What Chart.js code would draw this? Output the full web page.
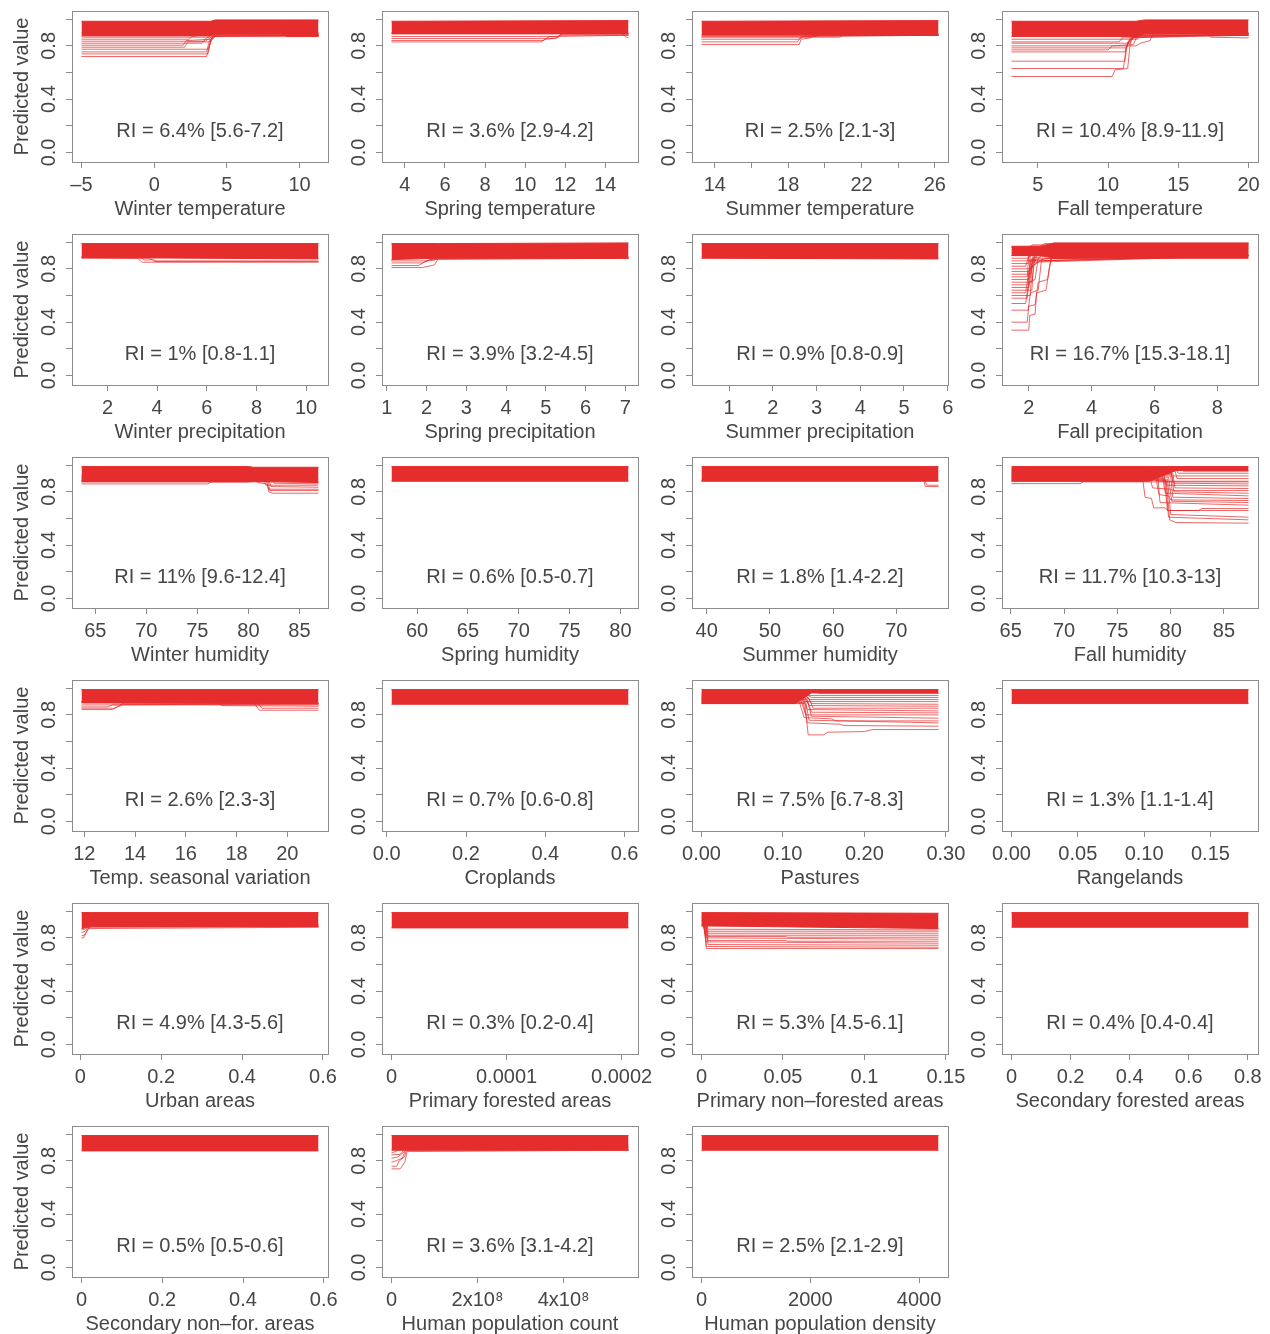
<!DOCTYPE html>
<html>
<head>
<meta charset="utf-8">
<script src="https://cdn.jsdelivr.net/npm/chart.js@4.4.0/dist/chart.umd.min.js"></script>
<style>
  html, body { margin: 0; padding: 0; background: #fff; }
  #grid { position: relative; width: 1270px; height: 1334px; overflow: hidden; }
  #grid canvas { position: absolute; }
</style>
</head>
<body>
<div id="grid"></div>
<script>
// one panel per predictor
const panelTitles = [
  'Winter temperature', 'Spring temperature', 'Summer temperature', 'Fall temperature',
  'Winter precipitation', 'Spring precipitation', 'Summer precipitation', 'Fall precipitation',
  'Winter humidity', 'Spring humidity', 'Summer humidity', 'Fall humidity',
  'Temp. seasonal variation', 'Croplands', 'Pastures', 'Rangelands',
  'Urban areas', 'Primary forested areas', 'Primary non\u2013forested areas', 'Secondary forested areas',
  'Secondary non\u2013for. areas', 'Human population count', 'Human population density'
];

const riLabels = [
  'RI = 6.4% [5.6-7.2]', 'RI = 3.6% [2.9-4.2]', 'RI = 2.5% [2.1-3]', 'RI = 10.4% [8.9-11.9]',
  'RI = 1% [0.8-1.1]', 'RI = 3.9% [3.2-4.5]', 'RI = 0.9% [0.8-0.9]', 'RI = 16.7% [15.3-18.1]',
  'RI = 11% [9.6-12.4]', 'RI = 0.6% [0.5-0.7]', 'RI = 1.8% [1.4-2.2]', 'RI = 11.7% [10.3-13]',
  'RI = 2.6% [2.3-3]', 'RI = 0.7% [0.6-0.8]', 'RI = 7.5% [6.7-8.3]', 'RI = 1.3% [1.1-1.4]',
  'RI = 4.9% [4.3-5.6]', 'RI = 0.3% [0.2-0.4]', 'RI = 5.3% [4.5-6.1]', 'RI = 0.4% [0.4-0.4]',
  'RI = 0.5% [0.5-0.6]', 'RI = 3.6% [3.1-4.2]', 'RI = 2.5% [2.1-2.9]'
];

const xTicks = [
  [-5, 0, 5, 10], [4, 6, 8, 10, 12, 14], [14, 16, 18, 20, 22, 24, 26], [5, 10, 15, 20],
  [2, 4, 6, 8, 10], [1, 2, 3, 4, 5, 6, 7], [1, 2, 3, 4, 5, 6], [2, 4, 6, 8],
  [65, 70, 75, 80, 85], [60, 65, 70, 75, 80], [40, 50, 60, 70], [65, 70, 75, 80, 85],
  [12, 14, 16, 18, 20], [0, 0.2, 0.4, 0.6], [0, 0.1, 0.2, 0.3], [0, 0.05, 0.1, 0.15],
  [0, 0.2, 0.4, 0.6], [0, 0.0001, 0.0002], [0, 0.05, 0.1, 0.15], [0, 0.2, 0.4, 0.6, 0.8],
  [0, 0.2, 0.4, 0.6], [0, 2e8, 4e8], [0, 2000, 4000]
];

const xTickLabels = [
  ['\u20135', '0', '5', '10'], ['4', '6', '8', '10', '12', '14'], ['14', '', '18', '', '22', '', '26'], ['5', '10', '15', '20'],
  ['2', '4', '6', '8', '10'], ['1', '2', '3', '4', '5', '6', '7'], ['1', '2', '3', '4', '5', '6'], ['2', '4', '6', '8'],
  ['65', '70', '75', '80', '85'], ['60', '65', '70', '75', '80'], ['40', '50', '60', '70'], ['65', '70', '75', '80', '85'],
  ['12', '14', '16', '18', '20'], ['0.0', '0.2', '0.4', '0.6'], ['0.00', '0.10', '0.20', '0.30'], ['0.00', '0.05', '0.10', '0.15'],
  ['0', '0.2', '0.4', '0.6'], ['0', '0.0001', '0.0002'], ['0', '0.05', '0.1', '0.15'], ['0', '0.2', '0.4', '0.6', '0.8'],
  ['0', '0.2', '0.4', '0.6'], ['0', '2x10\u2078', '4x10\u2078'], ['0', '2000', '4000']
];

// observed range of each predictor (R pads it by 4%)
const xRanges = [
  [-5, 11.3], [3.33, 15.16], [13.27, 26.2], [3.13, 20],
  [0.95, 10.5], [1.12, 7.08], [0.37, 5.79], [1.45, 8.99],
  [63.65, 86.87], [57.48, 80.8], [39.17, 76.67], [65.07, 87.3],
  [11.89, 21.23], [0.012, 0.61], [0, 0.291], [0, 0.1787],
  [0.003, 0.589], [0, 0.000206], [0, 0.1455], [0, 0.8025],
  [0, 0.587], [0, 5.51e8], [0, 4358]
];

const yTicks = [0, 0.2, 0.4, 0.6, 0.8, 1.0];
const yTickLabels = ['0.0', '', '0.4', '', '0.8', ''];
const yLimits = [-0.072, 1.062];

// dense bundle of curves: [x, top, bottom]
const bands = [
  [[-5, 0.985, 0.875], [3.9, 0.985, 0.875], [4.2, 0.995, 0.89], [8.8, 0.995, 0.89], [9.1, 0.995, 0.875], [11.3, 0.995, 0.875]],
  [[3.33, 0.985, 0.89], [15.16, 0.99, 0.89]],
  [[13.27, 0.985, 0.88], [26.2, 0.99, 0.88]],
  [[3.13, 0.985, 0.87], [12.0, 0.985, 0.87], [12.6, 0.995, 0.89], [20, 0.995, 0.89]],
  [[0.95, 0.99, 0.885], [10.5, 0.99, 0.875]],
  [[1.12, 0.99, 0.87], [2.3, 0.99, 0.88], [7.08, 0.995, 0.88]],
  [[0.37, 0.99, 0.88], [5.79, 0.99, 0.875]],
  [[1.45, 0.97, 0.9], [2.4, 0.97, 0.9], [2.8, 0.995, 0.88], [8.99, 0.995, 0.88]],
  [[63.65, 0.99, 0.875], [80, 0.99, 0.875], [80.5, 0.985, 0.88], [86.87, 0.985, 0.87]],
  [[57.48, 0.99, 0.88], [80.8, 0.99, 0.88]],
  [[39.17, 0.99, 0.88], [76.67, 0.99, 0.88]],
  [[65.07, 0.99, 0.88], [78, 0.99, 0.88], [80.5, 0.99, 0.96], [87.3, 0.99, 0.96]],
  [[11.89, 0.99, 0.89], [21.23, 0.99, 0.885]],
  [[0.012, 0.99, 0.88], [0.61, 0.99, 0.88]],
  [[0, 0.99, 0.885], [0.115, 0.99, 0.885], [0.135, 0.99, 0.965], [0.291, 0.99, 0.965]],
  [[0, 0.99, 0.885], [0.1787, 0.99, 0.885]],
  [[0.003, 0.99, 0.87], [0.03, 0.99, 0.885], [0.589, 0.99, 0.885]],
  [[0, 0.99, 0.875], [0.000206, 0.99, 0.875]],
  [[0, 0.99, 0.89], [0.1455, 0.985, 0.87]],
  [[0, 0.99, 0.88], [0.8025, 0.99, 0.88]],
  [[0, 0.99, 0.875], [0.587, 0.99, 0.875]],
  [[0, 0.99, 0.88], [5.51e8, 0.99, 0.88]],
  [[0, 0.99, 0.88], [4358, 0.99, 0.88]]
];

// individual curves that leave the bundle: [x, y] points
const iceLines = [
  [
    [[-5, 0.72], [3.6, 0.72], [3.9, 0.84], [4.2, 0.87], [11.3, 0.87]],
    [[-5, 0.74], [3.7, 0.74], [3.9, 0.85], [4.3, 0.88], [11.3, 0.88]],
    [[-5, 0.755], [3.6, 0.755], [3.8, 0.84], [4.2, 0.88], [11.3, 0.88]],
    [[-5, 0.775], [3.7, 0.775], [4.0, 0.86], [4.4, 0.89], [11.3, 0.89]],
    [[-5, 0.79], [2.1, 0.79], [2.3, 0.83], [3.8, 0.83], [4.1, 0.88], [11.3, 0.88]],
    [[-5, 0.805], [2.0, 0.805], [2.2, 0.84], [3.9, 0.85], [4.2, 0.89], [11.3, 0.89]],
    [[-5, 0.82], [3.3, 0.82], [3.6, 0.86], [4.1, 0.89], [11.3, 0.89]],
    [[-5, 0.835], [3.5, 0.835], [4.0, 0.87], [11.3, 0.88]],
    [[-5, 0.85], [2.4, 0.85], [2.6, 0.87], [4.2, 0.9], [11.3, 0.9]],
    [[-5, 0.865], [3.9, 0.865], [4.2, 0.89], [11.3, 0.89]],
    [[-5, 0.9], [8.8, 0.9], [9.1, 0.87], [11.3, 0.87]]
  ],
  [
    [[3.33, 0.83], [10.8, 0.83], [11.0, 0.85], [11.6, 0.86], [11.8, 0.89], [15.16, 0.89]],
    [[3.33, 0.84], [10.9, 0.84], [11.2, 0.87], [15.16, 0.88]],
    [[3.33, 0.855], [11.5, 0.855], [11.8, 0.88], [15.16, 0.88]],
    [[3.33, 0.87], [11.6, 0.87], [11.9, 0.89], [15.16, 0.89]],
    [[3.33, 0.9], [14.8, 0.9], [15.0, 0.87], [15.16, 0.86]]
  ],
  [
    [[13.27, 0.81], [18.6, 0.81], [18.7, 0.85], [19.2, 0.86], [19.4, 0.88], [26.2, 0.88]],
    [[13.27, 0.83], [18.5, 0.83], [18.7, 0.87], [26.2, 0.88]],
    [[13.27, 0.85], [18.6, 0.85], [18.9, 0.875], [26.2, 0.88]],
    [[13.27, 0.865], [20.8, 0.865], [21.0, 0.88], [26.2, 0.885]],
    [[13.27, 0.87], [19.5, 0.87], [19.7, 0.89], [26.2, 0.89]]
  ],
  [
    [[3.13, 0.57], [10.3, 0.57], [10.5, 0.62], [11.4, 0.63], [11.6, 0.84], [12.0, 0.88], [20, 0.88]],
    [[3.13, 0.63], [11.1, 0.63], [11.3, 0.8], [11.8, 0.87], [20, 0.88]],
    [[3.13, 0.685], [11.2, 0.685], [11.4, 0.83], [12.0, 0.89], [20, 0.89]],
    [[3.13, 0.755], [11.2, 0.755], [11.5, 0.84], [12.2, 0.88], [20, 0.88]],
    [[3.13, 0.77], [10.0, 0.77], [10.3, 0.8], [11.8, 0.81], [12.1, 0.88], [20, 0.88]],
    [[3.13, 0.785], [11.3, 0.785], [11.6, 0.86], [20, 0.89]],
    [[3.13, 0.8], [12.0, 0.8], [12.3, 0.82], [13.0, 0.84], [13.2, 0.89], [20, 0.89]],
    [[3.13, 0.82], [11.6, 0.82], [11.8, 0.87], [20, 0.89]],
    [[3.13, 0.83], [10.8, 0.83], [11.0, 0.86], [20, 0.88]],
    [[3.13, 0.85], [12.1, 0.85], [12.3, 0.89], [20, 0.9]],
    [[3.13, 0.9], [17.0, 0.9], [17.3, 0.865], [20, 0.86]]
  ],
  [
    [[0.95, 0.88], [3.2, 0.88], [3.4, 0.85], [10.5, 0.85]],
    [[0.95, 0.885], [3.7, 0.88], [3.9, 0.855], [10.5, 0.855]],
    [[0.95, 0.89], [3.3, 0.89], [3.5, 0.865], [3.8, 0.87], [4.0, 0.86], [10.5, 0.86]]
  ],
  [
    [[1.12, 0.81], [1.9, 0.81], [2.2, 0.83], [2.3, 0.88], [7.08, 0.88]],
    [[1.12, 0.825], [1.8, 0.825], [2.0, 0.86], [2.2, 0.865], [2.3, 0.885], [7.08, 0.885]],
    [[1.12, 0.845], [1.9, 0.845], [2.1, 0.87], [7.08, 0.88]],
    [[1.12, 0.86], [2.0, 0.86], [2.2, 0.88], [7.08, 0.89]]
  ],
  [],
  [
    [[1.45, 0.34], [2.0, 0.34], [2.03, 0.45], [2.2, 0.46], [2.25, 0.62], [2.55, 0.64], [2.65, 0.8], [2.75, 0.9], [8.99, 0.9]],
    [[1.45, 0.4], [1.95, 0.4], [2.0, 0.52], [2.2, 0.53], [2.3, 0.7], [2.6, 0.72], [2.7, 0.88], [8.99, 0.89]],
    [[1.45, 0.49], [1.98, 0.49], [2.05, 0.62], [2.3, 0.64], [2.4, 0.86], [8.99, 0.9]],
    [[1.45, 0.54], [1.9, 0.54], [2.0, 0.7], [2.2, 0.72], [2.3, 0.88], [8.99, 0.9]],
    [[1.45, 0.58], [1.95, 0.58], [2.05, 0.8], [2.3, 0.86], [8.99, 0.9]],
    [[1.45, 0.6], [2.05, 0.6], [2.1, 0.84], [2.4, 0.9], [8.99, 0.91]],
    [[1.45, 0.62], [1.9, 0.62], [2.0, 0.78], [2.2, 0.9], [8.99, 0.92]],
    [[1.45, 0.64], [2.1, 0.64], [2.15, 0.85], [8.99, 0.9]],
    [[1.45, 0.66], [2.0, 0.66], [2.1, 0.82], [2.5, 0.88], [8.99, 0.9]],
    [[1.45, 0.68], [1.97, 0.68], [2.05, 0.87], [8.99, 0.93]],
    [[1.45, 0.7], [2.1, 0.7], [2.2, 0.9], [8.99, 0.94]],
    [[1.45, 0.72], [2.0, 0.72], [2.05, 0.86], [8.99, 0.9]],
    [[1.45, 0.74], [1.95, 0.74], [2.0, 0.9], [8.99, 0.95]],
    [[1.45, 0.76], [2.05, 0.76], [2.15, 0.92], [8.99, 0.96]],
    [[1.45, 0.78], [2.0, 0.78], [2.1, 0.88], [2.6, 0.9], [8.99, 0.91]],
    [[1.45, 0.8], [2.1, 0.8], [2.2, 0.93], [8.99, 0.97]],
    [[1.45, 0.82], [1.9, 0.82], [2.0, 0.9], [8.99, 0.92]],
    [[1.45, 0.84], [2.0, 0.84], [2.1, 0.94], [8.99, 0.98]],
    [[1.45, 0.86], [2.2, 0.86], [2.3, 0.93], [8.99, 0.95]],
    [[1.45, 0.88], [2.0, 0.88], [2.1, 0.95], [8.99, 0.97]],
    [[1.45, 0.9], [2.1, 0.9], [2.2, 0.96], [8.99, 0.98]],
    [[1.45, 0.92], [1.9, 0.92], [2.0, 0.97], [8.99, 0.99]],
    [[1.45, 0.94], [2.0, 0.94], [2.1, 0.98], [8.99, 0.99]],
    [[1.45, 0.96], [2.3, 0.96], [2.5, 0.99], [8.99, 0.99]]
  ],
  [
    [[63.65, 0.86], [76.0, 0.86], [76.4, 0.875], [86.87, 0.875]],
    [[63.65, 0.88], [81.8, 0.88], [82.0, 0.8], [82.4, 0.79], [86.87, 0.79]],
    [[63.65, 0.885], [81.9, 0.885], [82.1, 0.81], [86.87, 0.81]],
    [[63.65, 0.89], [80.6, 0.89], [80.9, 0.87], [81.8, 0.86], [82.0, 0.82], [86.87, 0.82]],
    [[63.65, 0.9], [82.0, 0.9], [82.2, 0.84], [86.87, 0.835]],
    [[63.65, 0.91], [81.5, 0.91], [81.7, 0.85], [86.87, 0.85]],
    [[63.65, 0.92], [82.3, 0.92], [82.5, 0.865], [86.87, 0.86]]
  ],
  [],
  [
    [[39.17, 0.89], [74.3, 0.89], [74.6, 0.84], [76.67, 0.84]],
    [[39.17, 0.885], [74.5, 0.885], [74.8, 0.85], [76.67, 0.85]]
  ],
  [
    [[65.07, 0.862], [71.5, 0.862], [71.8, 0.875], [87.3, 0.875]],
    [[65.07, 0.88], [77.4, 0.88], [77.6, 0.76], [78.2, 0.75], [78.4, 0.68], [79.5, 0.68], [79.7, 0.66], [87.3, 0.66]],
    [[65.07, 0.885], [79.6, 0.885], [79.9, 0.59], [80.5, 0.57], [87.3, 0.565]],
    [[65.07, 0.89], [79.5, 0.89], [79.8, 0.61], [87.3, 0.59]],
    [[65.07, 0.895], [79.7, 0.895], [80.0, 0.63], [87.3, 0.61]],
    [[65.07, 0.9], [79.4, 0.9], [79.7, 0.66], [82.6, 0.66], [82.9, 0.675], [87.3, 0.675]],
    [[65.07, 0.905], [78.8, 0.905], [79.0, 0.72], [87.3, 0.7]],
    [[65.07, 0.91], [79.8, 0.91], [80.1, 0.73], [87.3, 0.72]],
    [[65.07, 0.915], [78.6, 0.915], [78.9, 0.78], [79.8, 0.77], [80.0, 0.74], [87.3, 0.735]],
    [[65.07, 0.92], [80.0, 0.92], [80.2, 0.76], [87.3, 0.75]],
    [[65.07, 0.925], [79.2, 0.925], [79.5, 0.79], [87.3, 0.77]],
    [[65.07, 0.93], [80.1, 0.93], [80.3, 0.8], [87.3, 0.79]],
    [[65.07, 0.935], [78.0, 0.935], [78.3, 0.83], [80.0, 0.82], [80.2, 0.81], [87.3, 0.81]],
    [[65.07, 0.94], [80.2, 0.94], [80.4, 0.83], [87.3, 0.825]],
    [[65.07, 0.945], [79.3, 0.945], [79.6, 0.85], [87.3, 0.845]],
    [[65.07, 0.95], [80.0, 0.95], [80.3, 0.865], [87.3, 0.86]],
    [[65.07, 0.955], [78.5, 0.955], [78.8, 0.88], [87.3, 0.88]],
    [[65.07, 0.96], [80.4, 0.96], [80.6, 0.9], [87.3, 0.9]],
    [[65.07, 0.965], [79.9, 0.965], [80.1, 0.92], [87.3, 0.92]],
    [[65.07, 0.97], [80.5, 0.97], [80.7, 0.94], [87.3, 0.94]],
    [[65.07, 0.975], [81.0, 0.975], [81.2, 0.955], [87.3, 0.955]]
  ],
  [
    [[11.89, 0.84], [13.1, 0.84], [13.3, 0.86], [13.5, 0.875], [21.23, 0.875]],
    [[11.89, 0.85], [13.2, 0.85], [13.5, 0.88], [21.23, 0.88]],
    [[11.89, 0.86], [12.9, 0.86], [13.1, 0.875], [21.23, 0.885]],
    [[11.89, 0.875], [13.4, 0.875], [13.6, 0.89], [21.23, 0.89]],
    [[11.89, 0.9], [17.2, 0.9], [17.4, 0.87], [21.23, 0.865]],
    [[11.89, 0.895], [18.7, 0.885], [18.9, 0.835], [21.23, 0.835]],
    [[11.89, 0.9], [18.8, 0.895], [19.0, 0.85], [21.23, 0.85]]
  ],
  [],
  [
    [[0, 0.885], [0.127, 0.885], [0.131, 0.65], [0.15, 0.65], [0.155, 0.67], [0.2, 0.675], [0.21, 0.69], [0.291, 0.69]],
    [[0, 0.89], [0.125, 0.89], [0.13, 0.74], [0.17, 0.73], [0.175, 0.72], [0.291, 0.715]],
    [[0, 0.895], [0.128, 0.895], [0.132, 0.76], [0.291, 0.74]],
    [[0, 0.9], [0.12, 0.9], [0.126, 0.78], [0.16, 0.77], [0.165, 0.755], [0.291, 0.755]],
    [[0, 0.905], [0.13, 0.905], [0.135, 0.79], [0.291, 0.775]],
    [[0, 0.91], [0.122, 0.91], [0.128, 0.8], [0.291, 0.8]],
    [[0, 0.915], [0.13, 0.915], [0.135, 0.82], [0.291, 0.815]],
    [[0, 0.92], [0.125, 0.92], [0.13, 0.84], [0.291, 0.83]],
    [[0, 0.925], [0.132, 0.925], [0.137, 0.85], [0.291, 0.85]],
    [[0, 0.93], [0.127, 0.93], [0.132, 0.87], [0.291, 0.865]],
    [[0, 0.935], [0.13, 0.935], [0.135, 0.885], [0.291, 0.88]],
    [[0, 0.94], [0.12, 0.94], [0.125, 0.9], [0.291, 0.9]],
    [[0, 0.945], [0.128, 0.945], [0.133, 0.915], [0.291, 0.915]],
    [[0, 0.95], [0.13, 0.95], [0.135, 0.93], [0.291, 0.93]],
    [[0, 0.96], [0.125, 0.96], [0.13, 0.945], [0.291, 0.945]],
    [[0, 0.97], [0.14, 0.97], [0.145, 0.96], [0.291, 0.96]]
  ],
  [],
  [
    [[0.003, 0.8], [0.008, 0.8], [0.015, 0.84], [0.022, 0.88], [0.589, 0.885]],
    [[0.003, 0.815], [0.01, 0.82], [0.02, 0.87], [0.589, 0.88]],
    [[0.003, 0.84], [0.012, 0.85], [0.025, 0.89], [0.589, 0.89]],
    [[0.003, 0.86], [0.015, 0.87], [0.02, 0.9], [0.589, 0.9]]
  ],
  [],
  [
    [[0, 0.9], [0.0015, 0.9], [0.003, 0.72], [0.1455, 0.72]],
    [[0, 0.92], [0.0015, 0.92], [0.003, 0.735], [0.1455, 0.73]],
    [[0, 0.94], [0.002, 0.94], [0.004, 0.75], [0.1455, 0.745]],
    [[0, 0.91], [0.001, 0.91], [0.003, 0.77], [0.1455, 0.76]],
    [[0, 0.95], [0.002, 0.95], [0.004, 0.78], [0.052, 0.78], [0.053, 0.775], [0.1455, 0.775]],
    [[0, 0.93], [0.0015, 0.93], [0.003, 0.8], [0.1455, 0.79]],
    [[0, 0.96], [0.002, 0.96], [0.004, 0.81], [0.052, 0.81], [0.053, 0.805], [0.1455, 0.805]],
    [[0, 0.89], [0.001, 0.89], [0.003, 0.82], [0.1455, 0.82]],
    [[0, 0.97], [0.002, 0.97], [0.004, 0.835], [0.1455, 0.835]],
    [[0, 0.95], [0.0015, 0.95], [0.003, 0.85], [0.1455, 0.85]],
    [[0, 0.98], [0.002, 0.98], [0.004, 0.865], [0.1455, 0.86]]
  ],
  [],
  [],
  [
    [[0, 0.74], [2e7, 0.74], [2.5e7, 0.76], [3.2e7, 0.8], [3.6e7, 0.87], [5.51e8, 0.88]],
    [[0, 0.76], [1.2e7, 0.76], [1.8e7, 0.8], [3e7, 0.83], [3.5e7, 0.88], [5.51e8, 0.885]],
    [[0, 0.79], [1e7, 0.8], [2.5e7, 0.82], [3.4e7, 0.89], [5.51e8, 0.89]],
    [[0, 0.82], [1.5e7, 0.83], [3e7, 0.87], [4e7, 0.9], [5.51e8, 0.9]],
    [[0, 0.845], [2e7, 0.85], [3.5e7, 0.9], [5.51e8, 0.91]],
    [[0, 0.86], [1e7, 0.87], [2.8e7, 0.91], [5.51e8, 0.92]]
  ],
  []
];

const bandColor = 'rgb(229, 45, 45)';
const lineColor = 'rgba(229, 40, 40, 0.7)';
const boxColor = '#8c8c8c';
const textColor = '#464646';
const fontFamily = '"Liberation Sans", Arial, Helvetica, sans-serif';

// box, tick labels, titles and RI text, placed with the chart's own scales
function framePlugin(i) {
  return {
    id: 'frame' + i,
    afterDraw(chart) {
      const { ctx, chartArea: a, scales } = chart;
      const midX = (a.left + a.right) / 2;
      ctx.save();
      ctx.strokeStyle = boxColor;
      ctx.lineWidth = 1;
      ctx.strokeRect(Math.round(a.left) + 0.5, Math.round(a.top) + 0.5, Math.round(a.width), Math.round(a.height));

      ctx.fillStyle = textColor;
      ctx.font = '20px ' + fontFamily;
      ctx.textAlign = 'center';
      ctx.textBaseline = 'middle';
      xTicks[i].forEach((v, k) => {
        ctx.fillText(xTickLabels[i][k], scales.x.getPixelForValue(v), a.bottom + 23);
      });
      ctx.fillText(panelTitles[i], midX, a.bottom + 47);
      ctx.fillText(riLabels[i], midX, scales.y.getPixelForValue(0.155));

      yTicks.forEach((v, k) => {
        if (!yTickLabels[k]) return;
        ctx.save();
        ctx.translate(a.left - 23, scales.y.getPixelForValue(v));
        ctx.rotate(-Math.PI / 2);
        ctx.fillText(yTickLabels[k], 0, 0);
        ctx.restore();
      });

      if (i % 4 === 0) {
        ctx.save();
        ctx.translate(a.left - 50, (a.top + a.bottom) / 2);
        ctx.rotate(-Math.PI / 2);
        ctx.fillText('Predicted value', 0, 0);
        ctx.restore();
      }
      ctx.restore();
    }
  };
}

function toPoints(pairs) {
  return pairs.map(p => ({ x: p[0], y: p[1] }));
}

function makePanel(i) {
  const col = i % 4;
  const row = Math.floor(i / 4);
  const canvas = document.createElement('canvas');
  canvas.width = 372;
  canvas.height = 223;
  canvas.style.left = (col * 310) + 'px';
  canvas.style.top = (row * 223) + 'px';
  document.getElementById('grid').appendChild(canvas);

  const [lo, hi] = xRanges[i];
  const pad = (hi - lo) * 0.04;

  const datasets = [
    {
      data: bands[i].map(b => ({ x: b[0], y: b[1] })),
      borderColor: bandColor,
      backgroundColor: bandColor,
      borderWidth: 1,
      fill: '+1'
    },
    {
      data: bands[i].map(b => ({ x: b[0], y: b[2] })),
      borderColor: bandColor,
      borderWidth: 1,
      fill: false
    }
  ];
  iceLines[i].forEach(line => {
    datasets.push({
      data: toPoints(line),
      borderColor: lineColor,
      borderWidth: 1,
      fill: false
    });
  });

  const tickGrid = { drawOnChartArea: false, drawTicks: true, tickLength: 6, color: boxColor, lineWidth: 1 };

  new Chart(canvas, {
    type: 'line',
    data: { datasets },
    options: {
      responsive: false,
      animation: false,
      devicePixelRatio: 1,
      layout: { padding: { top: 11, right: 44, left: 0, bottom: 0 } },
      elements: { point: { radius: 0 }, line: { tension: 0 } },
      plugins: { legend: { display: false }, tooltip: { enabled: false } },
      scales: {
        x: {
          type: 'linear',
          min: lo - pad,
          max: hi + pad,
          afterBuildTicks: s => { s.ticks = xTicks[i].map(v => ({ value: v })); },
          afterFit: s => { s.height = 61; },
          ticks: { display: false },
          grid: tickGrid,
          border: { display: false }
        },
        y: {
          type: 'linear',
          min: yLimits[0],
          max: yLimits[1],
          afterBuildTicks: s => { s.ticks = yTicks.map(v => ({ value: v })); },
          afterFit: s => { s.width = 72; },
          ticks: { display: false },
          grid: tickGrid,
          border: { display: false }
        }
      }
    },
    plugins: [framePlugin(i)]
  });
}

panelTitles.forEach((_, i) => makePanel(i));
</script>
</body>
</html>
